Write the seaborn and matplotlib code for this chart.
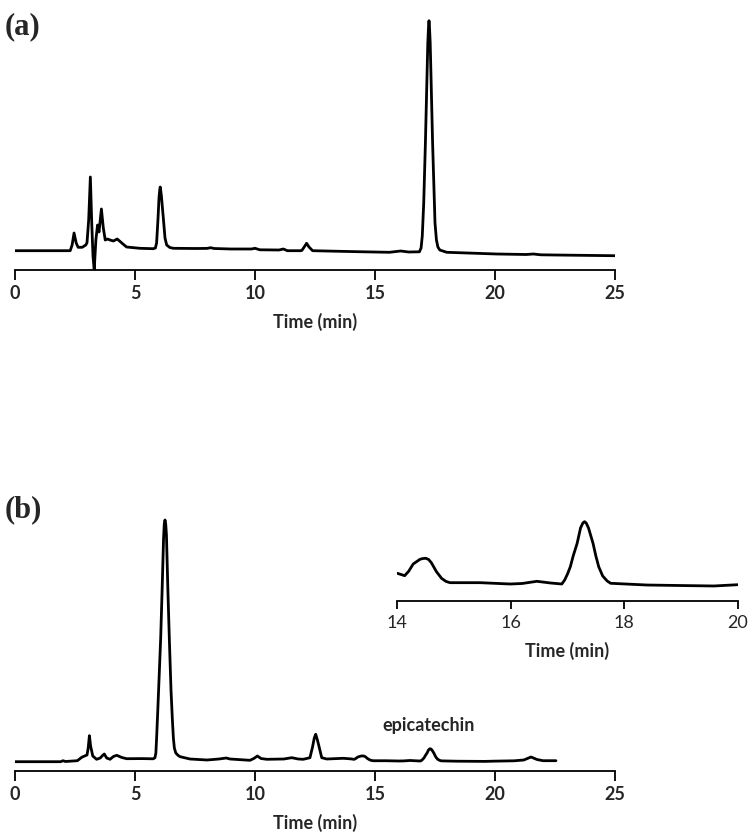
import matplotlib
matplotlib.use("Agg")
import matplotlib.pyplot as plt
import seaborn as sns

# chromatogram (a): retention time (min) and detector response (a.u.)
time_a = [0.0, 2.3, 2.38, 2.46, 2.55, 2.63, 2.8, 2.95, 3.0, 3.07, 3.14, 3.2, 3.25, 3.3,
          3.37, 3.44, 3.5, 3.6, 3.68, 3.76, 3.85, 3.96, 4.1, 4.26, 4.45, 4.65, 5.2, 5.76,
          5.85, 5.9, 5.96, 6.0, 6.03, 6.05, 6.07, 6.1, 6.18, 6.25, 6.32, 6.45, 6.6, 7.5,
          8.0, 8.15, 8.3, 9.0, 9.85, 10.0, 10.2, 11.0, 11.18, 11.35, 11.9, 11.95, 12.05,
          12.15, 12.25, 12.4, 13.5, 14.5, 15.6, 16.07, 16.4, 16.85, 16.92, 16.97, 17.03,
          17.1, 17.2, 17.23, 17.25, 17.27, 17.3, 17.4, 17.5, 17.56, 17.62, 17.7, 17.99,
          20.07, 21.3, 21.6, 21.9, 22.5, 24.93, 25.0]
signal_a = [0.3, 0.3, 6, 18, 8, 3.7, 3.7, 6, 8.3, 31, 74, 26, -5, -19,
            11, 26, 19, 42, 23, 11, 12, 11, 10, 12, 8, 4, 2.7, 2.3,
            3.0, 8, 33, 53, 61, 64, 61, 55, 33, 13, 6, 3.5, 2.7, 2.5,
            2.6, 3.3, 2.5, 2.0, 2.0, 2.7, 1.2, 1.0, 2.0, 0.3, 0.3, 0.5, 4,
            7.7, 4, 0.3, -0.3, -0.8, -1.3, 0, -1.0, -0.8, 3, 15, 48,
            108, 208, 224, 230.3, 224, 208, 108, 28, 11, 4, 1, -1.3,
            -3, -3.5, -3, -3.8, -4, -4.7, -4.7]

# chromatogram (b)
time_b = [0.0, 1.9, 2.0, 2.1, 2.6, 2.78, 2.9, 3.0, 3.05, 3.1, 3.15, 3.24, 3.4, 3.55,
          3.65, 3.72, 3.82, 3.96, 4.1, 4.24, 4.45, 4.65, 5.3, 5.76, 5.83, 5.87, 5.9, 5.95,
          6.0, 6.07, 6.13, 6.19, 6.22, 6.25, 6.28, 6.31, 6.37, 6.43, 6.5, 6.56, 6.6, 6.64,
          6.7, 6.8, 6.88, 7.29, 8.0, 8.5, 8.8, 8.96, 9.79, 9.95, 10.1, 10.25, 10.49, 11.2,
          11.53, 11.8, 12.01, 12.29, 12.4, 12.47, 12.53, 12.6, 12.67, 12.78, 12.99, 13.68,
          14.0, 14.13, 14.2, 14.28, 14.4, 14.45, 14.5, 14.55, 14.6, 14.69, 14.78, 14.86,
          14.93, 15.46, 15.99, 16.2, 16.46, 16.7, 16.9, 16.95, 17.0, 17.05, 17.1, 17.17,
          17.23, 17.27, 17.3, 17.33, 17.37, 17.45, 17.5, 17.55, 17.62, 17.7, 17.76, 18.4,
          19.0, 19.58, 20.0, 20.8, 21.2, 21.5, 21.75, 22.0, 22.54]
signal_b = [-0.7, -0.7, 0.3, -0.5, 0.3, 3.7, 5.0, 6.0, 13, 25.3, 15, 5, 1.7, 3,
            5.5, 7, 3, 1.7, 4.5, 5.7, 3.5, 2.3, 2.4, 2.2, 3.2, 8, 22.7, 51,
            81, 122.7, 171, 222.7, 237, 241, 237, 226, 171, 122.7, 71, 40, 22.7, 13,
            8, 5.5, 4.3, 2.0, 1.0, 2.0, 3.0, 2.0, 0.7, 2.5, 5.0, 2.5, 1.7, 2.0,
            3.3, 2.0, 1.7, 3.3, 14.3, 23, 26.7, 21, 14.3, 3.3, 2.0, 2.7,
            2.11, 1.64, 2.5, 3.94, 4.87, 5.02, 5.07, 4.85, 4.2, 2.43, 1.12, 0.5,
            0.26, 0.26, 0.0, 0.1, 0.53, 0.2, 0.0, 0.79, 1.97, 3.41, 5.52, 8.02,
            11.05, 12.0, 12.29, 12.0, 11.05, 8.02, 5.52, 3.41, 1.58, 0.59, 0.14, -0.2,
            -0.3, -0.39, -0.14, 0.2, 1.0, 4.0, 1.5, 0.3, 0.3]

main_ticks = [0, 5, 10, 15, 20, 25]
inset_ticks = [14, 16, 18, 20]

sns.set_style("white")
plt.rcParams['font.family'] = ['Lato', 'DejaVu Sans']

W, H = 754, 839
fig = plt.figure(figsize=(W / 100, H / 100), dpi=100)


def box(left, top, right, bottom):
    return [left / W, 1 - bottom / H, (right - left) / W, (bottom - top) / H]


def style_axis(ax, ticks, bold=True, size=13, tick_len=7):
    sns.despine(ax=ax, left=True)
    ax.set_yticks([])
    ax.set_xticks(ticks)
    ax.set_xticklabels([str(t) for t in ticks], fontsize=size,
                       fontweight='bold' if bold else 'normal')
    ax.tick_params(axis='x', direction='out', length=tick_len, width=1.3,
                   color='black', pad=4, bottom=True)
    ax.spines['bottom'].set_linewidth(1.3)
    ax.spines['bottom'].set_color('black')
    ax.set_xlabel('Time (min)', fontsize=13, fontweight='bold', labelpad=8)
    ax.set_ylabel('')
    ax.patch.set_alpha(0)


ax_a = fig.add_axes(box(15, 15, 615, 270))
sns.lineplot(x=time_a, y=signal_a, ax=ax_a, color='black', linewidth=2,
             sort=False, estimator=None)
ax_a.set_xlim(0, 25)
ax_a.set_ylim(-19, 236)
style_axis(ax_a, main_ticks)

ax_b = fig.add_axes(box(15, 515, 615, 771))
sns.lineplot(x=time_b, y=signal_b, ax=ax_b, color='black', linewidth=2,
             sort=False, estimator=None)
ax_b.set_xlim(0, 25)
ax_b.set_ylim(-10, 246)
style_axis(ax_b, main_ticks)
ax_b.text(17.25, 35, 'epicatechin', ha='center', va='center', fontsize=13,
          fontweight='bold')

ins_t = [t for t in time_b if 14 <= t <= 20]
ins_s = [s for t, s in zip(time_b, signal_b) if 14 <= t <= 20]
ax_in = fig.add_axes(box(397.3, 515, 737.7, 601))
sns.lineplot(x=ins_t, y=ins_s, ax=ax_in, color='black', linewidth=2,
             sort=False, estimator=None)
ax_in.set_xlim(14, 20)
ax_in.set_ylim(-3.35, 13.6)
style_axis(ax_in, inset_ticks, bold=False, size=13, tick_len=6)

fig.text(5 / W, 1 - 27 / H, '(a)', family=['Liberation Serif'], fontweight='bold',
         fontsize=22, va='center', ha='left')
fig.text(5 / W, 1 - 510 / H, '(b)', family=['Liberation Serif'], fontweight='bold',
         fontsize=22, va='center', ha='left')

fig.savefig('out.png', dpi=100, facecolor='white')
